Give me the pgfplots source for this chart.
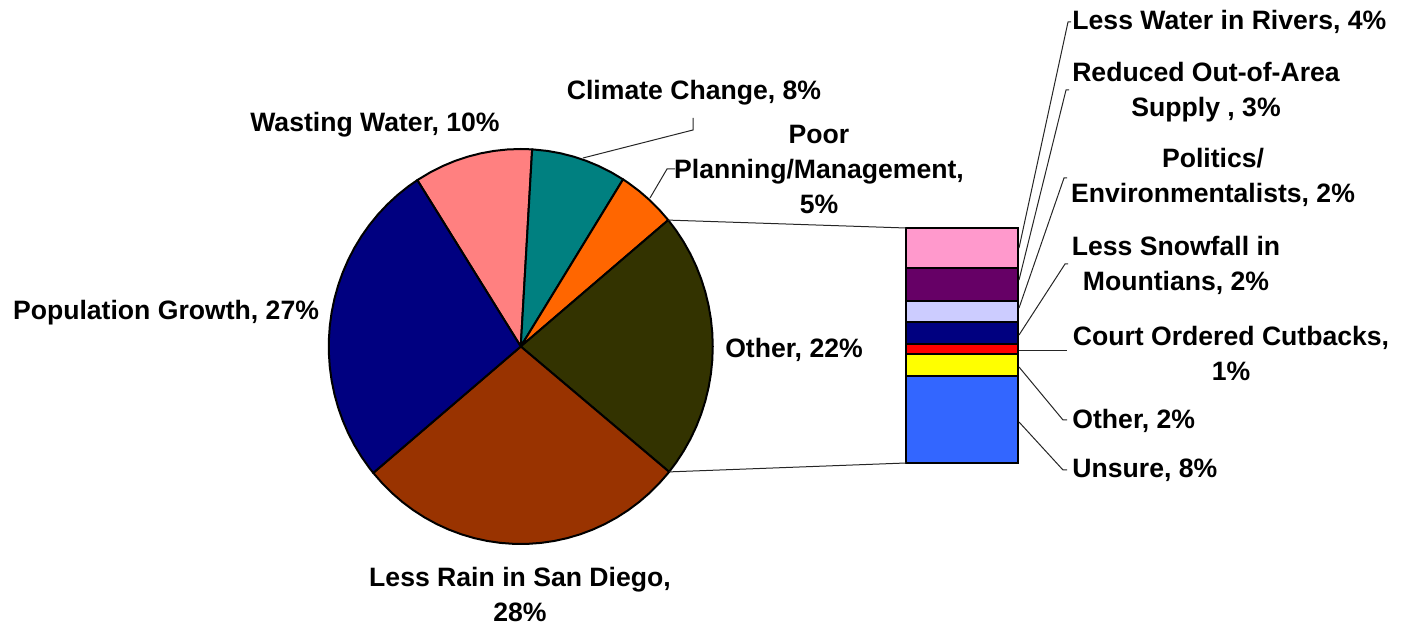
\documentclass[border=0pt]{standalone}
\usepackage{fontspec}
\setmainfont{Liberation Sans}
\usepackage{pgfplots}
\pgfplotsset{compat=1.18}
\definecolor{cPink}{HTML}{FF8080}
\definecolor{cTeal}{HTML}{008080}
\definecolor{cOrange}{HTML}{FF6600}
\definecolor{cOlive}{HTML}{333300}
\definecolor{cBrown}{HTML}{993300}
\definecolor{cNavy}{HTML}{000080}
\definecolor{bPink}{HTML}{FF99CC}
\definecolor{bPurple}{HTML}{660066}
\definecolor{bLav}{HTML}{CCCCFF}
\definecolor{bNavy}{HTML}{000080}
\definecolor{bRed}{HTML}{FF0000}
\definecolor{bYellow}{HTML}{FFFF00}
\definecolor{bBlue}{HTML}{3366FF}
\begin{document}
\begin{tikzpicture}[
  lab/.style={font=\fontsize{13.3}{17.5}\selectfont\bfseries, align=center, inner sep=0pt, text=black},
]
\useasboundingbox (0,0) rectangle (700.5pt,313pt);
% ---------------- pie (slices given by their angles: 10%, 8%, 5%, 22%, 28%, 27%)
\begin{axis}[at={(260.375pt,139.75pt)}, anchor=center, x=96pt, y=98.75pt,
  xmin=-1, xmax=1, ymin=-1, ymax=1, hide axis, clip=false, scale only axis]
\pgfplotsset{pie/.style={draw=black, line width=1pt, line join=round, data cs=polar}}
% Wasting Water 10%
\addplot[pie, fill=cPink] coordinates {(0,0) (86.6,1) (90,1) (94,1) (98,1) (102,1) (106,1) (110,1) (114,1) (118,1) (122.6,1)} -- cycle;
% Climate Change 8%
\addplot[pie, fill=cTeal] coordinates {(0,0) (57.8,1) (62,1) (66,1) (70,1) (74,1) (78,1) (82,1) (86.6,1)} -- cycle;
% Poor Planning 5%
\addplot[pie, fill=cOrange] coordinates {(0,0) (39.8,1) (44,1) (48,1) (52,1) (56,1) (57.8,1)} -- cycle;
% Other 22%
\addplot[pie, fill=cOlive] coordinates {(0,0) (-39.4,1) (-36,1) (-32,1) (-28,1) (-24,1) (-20,1) (-16,1) (-12,1) (-8,1) (-4,1) (0,1) (4,1) (8,1) (12,1) (16,1) (20,1) (24,1) (28,1) (32,1) (36,1) (39.8,1)} -- cycle;
% Less Rain 28%
\addplot[pie, fill=cBrown] coordinates {(0,0) (-140.2,1) (-136,1) (-132,1) (-128,1) (-124,1) (-120,1) (-116,1) (-112,1) (-108,1) (-104,1) (-100,1) (-96,1) (-92,1) (-88,1) (-84,1) (-80,1) (-76,1) (-72,1) (-68,1) (-64,1) (-60,1) (-56,1) (-52,1) (-48,1) (-44,1) (-40,1) (-39.4,1)} -- cycle;
% Population Growth 27%
\addplot[pie, fill=cNavy] coordinates {(0,0) (122.6,1) (126,1) (130,1) (134,1) (138,1) (142,1) (146,1) (150,1) (154,1) (158,1) (162,1) (166,1) (170,1) (174,1) (178,1) (182,1) (186,1) (190,1) (194,1) (198,1) (202,1) (206,1) (210,1) (214,1) (218,1) (219.8,1)} -- cycle;
\end{axis}
% ---------------- bar, connectors and labels (pixel-like coordinates)
\begin{axis}[at={(0,0)}, anchor=south west, x=0.5pt, y=0.5pt,
  xmin=0, xmax=1401, ymin=-626, ymax=0, hide axis, clip=false, scale only axis]
\pgfplotsset{seg/.style={draw=black, line width=1pt, line join=miter},
  lead/.style={draw=black!85, line width=0.5pt}}
% stacked bar (Other, 22%): Unsure 8, Other 2, Court 1, Snowfall 2, Politics 2, Reduced 3, Less Water 4
\addplot[seg, fill=bBlue]   coordinates {(906,-463) (1018,-463) (1018,-376) (906,-376)} -- cycle;
\addplot[seg, fill=bYellow] coordinates {(906,-376) (1018,-376) (1018,-354) (906,-354)} -- cycle;
\addplot[seg, fill=bRed]    coordinates {(906,-354) (1018,-354) (1018,-344.5) (906,-344.5)} -- cycle;
\addplot[seg, fill=bNavy]   coordinates {(906,-344.5) (1018,-344.5) (1018,-322.5) (906,-322.5)} -- cycle;
\addplot[seg, fill=bLav]    coordinates {(906,-322.5) (1018,-322.5) (1018,-301) (906,-301)} -- cycle;
\addplot[seg, fill=bPurple] coordinates {(906,-301) (1018,-301) (1018,-268) (906,-268)} -- cycle;
\addplot[seg, fill=bPink]   coordinates {(906,-268) (1018,-268) (1018,-228) (906,-228)} -- cycle;
% connectors pie -> bar
\addplot[lead] coordinates {(668.2,-220.1) (906,-228)};
\addplot[lead] coordinates {(669.1,-471.9) (906,-463)};
% leader lines
\addplot[lead] coordinates {(693,-118) (693,-130) (583,-158)};
\addplot[lead] coordinates {(675,-169) (667,-169) (650,-198)};
\addplot[lead] coordinates {(1019,-248) (1068,-22) (1071,-22)};
\addplot[lead] coordinates {(1019,-280) (1066,-90) (1069,-90)};
\addplot[lead] coordinates {(1019,-308) (1064,-178) (1067,-178)};
\addplot[lead] coordinates {(1019,-335) (1065,-264) (1068,-264)};
\addplot[lead] coordinates {(1019,-351) (1067,-351)};
\addplot[lead] coordinates {(1019,-367) (1063,-420) (1067,-420)};
\addplot[lead] coordinates {(1019,-422) (1063,-470) (1067,-470)};
% labels
\node[lab] at (axis cs:375,-125) {Wasting Water, 10\%};
\node[lab] at (axis cs:694,-93) {Climate Change, 8\%};
\node[lab] at (axis cs:819,-169) {Poor\\Planning/Management,\\5\%};
\node[lab] at (axis cs:794,-350) {Other, 22\%};
\node[lab] at (axis cs:166,-313) {Population Growth, 27\%};
\node[lab] at (axis cs:520,-594) {Less Rain in San Diego,\\28\%};
\node[lab, anchor=west] at (axis cs:1072,-22) {Less Water in Rivers, 4\%};
\node[lab] at (axis cs:1206,-92) {Reduced Out-of-Area\\Supply , 3\%};
\node[lab] at (axis cs:1213,-177) {Politics/\\Environmentalists, 2\%};
\node[lab] at (axis cs:1176,-265) {Less Snowfall in\\Mountians, 2\%};
\node[lab] at (axis cs:1231,-353) {Court Ordered Cutbacks,\\1\%};
\node[lab, anchor=west] at (axis cs:1072,-421) {Other, 2\%};
\node[lab, anchor=west] at (axis cs:1072,-470) {Unsure, 8\%};
\end{axis}
\end{tikzpicture}
\end{document}
